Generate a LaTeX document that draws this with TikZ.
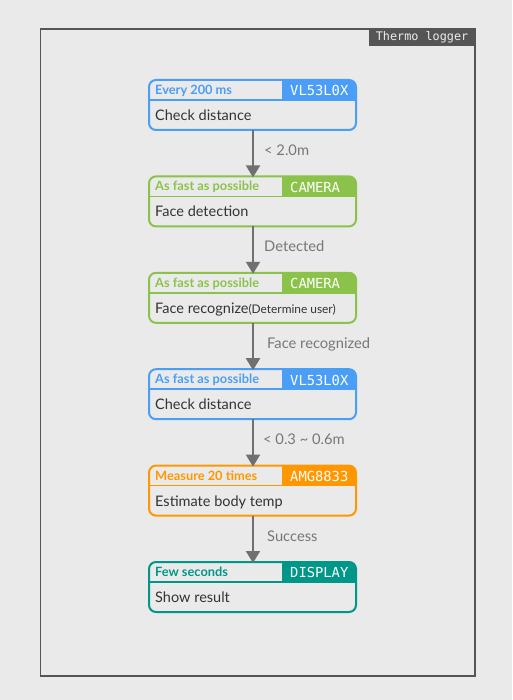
\documentclass[tikz,border=0pt]{standalone}
\usepackage{fontspec}
\setmainfont{Lato}
\newfontfamily\monof{DejaVu Sans Mono}
\usetikzlibrary{arrows.meta}
\definecolor{bg}{HTML}{EAEAEA}
\definecolor{framec}{HTML}{555555}
\definecolor{cblue}{HTML}{4A9EF5}
\definecolor{cgreen}{HTML}{8BC34A}
\definecolor{corange}{HTML}{FF9800}
\definecolor{cteal}{HTML}{009688}
\definecolor{txt}{HTML}{333333}
\definecolor{lbl}{HTML}{777777}
\definecolor{arr}{HTML}{707070}
\newcommand\smallnote{\fontsize{11.9}{13}\selectfont}
\tikzset{
  stagebox/.style={rectangle, minimum width=207pt, minimum height=50pt, inner sep=0pt, outer sep=0pt},
  headtext/.style={inner sep=0pt, font=\fontsize{12.8}{14}\selectfont\bfseries, anchor=base west},
  tagtext/.style={inner sep=0pt, font=\monof\fontsize{13.8}{15}\selectfont, text=white, anchor=base west},
  bodytext/.style={inner sep=0pt, font=\fontsize{14.5}{16}\selectfont, text=txt, anchor=base west},
  flowlabel/.style={inner sep=0pt, font=\fontsize{14.7}{16}\selectfont, text=lbl, anchor=base west},
  flowarrow/.style={draw=arr, line width=2pt, -{Triangle[width=14pt,length=12pt]}, shorten >=-1pt},
}
\newcommand\stage[6]{%
  \node[stagebox, anchor=north west] (#1) at (149,#2) {};
  \begin{scope}
    \clip[rounded corners=7pt] (#1.north west) rectangle (#1.south east);
    \fill[#3] (282,#2) rectangle (356,{#2+20});
  \end{scope}
  \draw[#3, line width=1.5pt] (149,{#2+20}) -- (356,{#2+20});
  \draw[#3, line width=2pt, rounded corners=7pt] (#1.north west) rectangle (#1.south east);
  \node[headtext, text=#3] (#1h) at (155,{#2+14.5}) {#4};
  \node[tagtext] (#1t) at (290,{#2+15.8}) {#5};
  \node[bodytext] (#1b) at (155,{#2+40.5}) {#6};
}
\begin{document}
\begin{tikzpicture}[x=1pt,y=-1pt]
\fill[bg] (0,0) rectangle (512,700);
\useasboundingbox (0,0) rectangle (512,700);
\draw[framec, line width=1.5pt] (40.5,29) rectangle (475,676);
\node[fill=framec, anchor=north east, minimum width=107pt, minimum height=18pt, inner sep=0pt,
      text=white!93!black, font=\monof\fontsize{11.8}{13}\selectfont] (title) at (475.75,28.3) {Thermo logger};
\stage{s1}{80}{cblue}{Every 200 ms}{VL53L0X}{Check distance}
\stage{s2}{176.4}{cgreen}{As fast as possible}{CAMERA}{Face detection}
\stage{s3}{272.8}{cgreen}{As fast as possible}{CAMERA}{Face recognize{\smallnote(Determine user)}}
\stage{s4}{369.2}{cblue}{As fast as possible}{VL53L0X}{Check distance}
\stage{s5}{465.6}{corange}{Measure 20 times}{AMG8833}{Estimate body temp}
\stage{s6}{562}{cteal}{Few seconds}{DISPLAY}{Show result}
\foreach \a/\b/\lx/\t in {s1/s2/264/{< 2.0m}, s2/s3/264/{Detected}, s3/s4/267/{Face recognized}, s4/s5/263/{< 0.3 \textasciitilde{} 0.6m}, s5/s6/267/{Success}}{
  \draw[flowarrow] (253,0 |- \a.south) -- (253,0 |- \b.north);
  \path (\a.south) -- (\b.north) coordinate[pos=0.5] (m\a);
  \node[flowlabel] (l\a) at (\lx,0 |- m\a) [yshift=-2.3pt] {\t};
}
\end{tikzpicture}
\end{document}
